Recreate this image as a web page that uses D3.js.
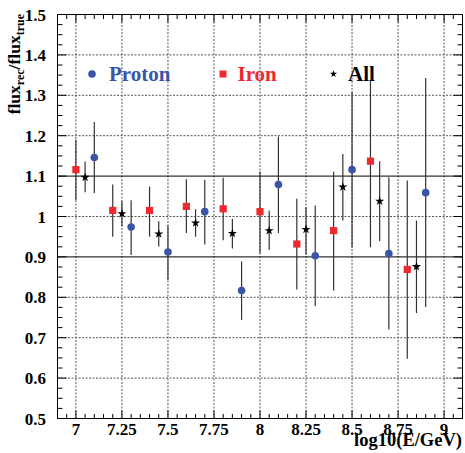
<!DOCTYPE html>
<html>
<head>
<meta charset="utf-8">
<script src="https://cdn.jsdelivr.net/npm/d3@7"></script>
<style>
  body { margin: 0; background: #fff; }
  text { font-family: "Liberation Serif", "Times New Roman", serif; font-weight: bold; }
</style>
</head>
<body>
<svg></svg>
<script>
// Proton (blue circles)
var protonX = [7.1, 7.3, 7.5, 7.7, 7.9, 8.1, 8.3, 8.5, 8.7, 8.9]
var protonY = [1.146, 0.974, 0.912, 1.012, 0.817, 1.079, 0.903, 1.116, 0.908, 1.059]
var protonLo = [1.058, 0.905, 0.843, 0.931, 0.744, 0.959, 0.778, 0.923, 0.720, 0.776]
var protonHi = [1.234, 1.040, 0.978, 1.091, 0.889, 1.198, 1.027, 1.309, 1.097, 1.343]

// Iron (red squares)
var ironX = [7.0, 7.2, 7.4, 7.6, 7.8, 8.0, 8.2, 8.4, 8.6, 8.8]
var ironY = [1.116, 1.015, 1.015, 1.025, 1.019, 1.012, 0.932, 0.965, 1.137, 0.869]
var ironLo = [1.041, 0.950, 0.950, 0.959, 0.941, 0.909, 0.819, 0.817, 0.924, 0.648]
var ironHi = [1.190, 1.079, 1.074, 1.092, 1.096, 1.111, 1.044, 1.111, 1.337, 1.089]

// All (black stars)
var allX = [7.05, 7.25, 7.45, 7.65, 7.85, 8.05, 8.25, 8.45, 8.65, 8.85]
var allY = [1.097, 1.007, 0.957, 0.984, 0.958, 0.965, 0.968, 1.073, 1.038, 0.876]
var allLo = [1.060, 0.976, 0.926, 0.950, 0.921, 0.918, 0.906, 0.990, 0.939, 0.761]
var allHi = [1.136, 1.038, 0.988, 1.018, 0.994, 1.015, 1.023, 1.155, 1.137, 0.990]

var xTicks = [7, 7.25, 7.5, 7.75, 8, 8.25, 8.5, 8.75, 9]
var xTickLabels = ["7", "7.25", "7.5", "7.75", "8", "8.25", "8.5", "8.75", "9"]
var yTicks = [0.5, 0.6, 0.7, 0.8, 0.9, 1, 1.1, 1.2, 1.3, 1.4, 1.5]
var yTickLabels = ["0.5", "0.6", "0.7", "0.8", "0.9", "1", "1.1", "1.2", "1.3", "1.4", "1.5"]
var solidLines = [0.9, 1.1]

var width = 465
var height = 453
var margin = { left: 57.5, right: 2.5, top: 14.5, bottom: 34.5 }
var blue = "#3b55a6"
var red = "#ee2a2e"

var svg = d3.select("svg")
  .attr("width", width)
  .attr("height", height)

var x = d3.scaleLinear().domain([6.9, 9.1]).range([margin.left, width - margin.right])
var y = d3.scaleLinear().domain([0.5, 1.5]).range([height - margin.bottom, margin.top])

var x0 = x.range()[0], x1 = x.range()[1]
var y0 = y.range()[0], y1 = y.range()[1]

// dotted grid
var g = svg.append("g")
g.selectAll(".vgrid").data(xTicks).enter().append("line")
  .attr("x1", d => x(d)).attr("x2", d => x(d))
  .attr("y1", y1).attr("y2", y0)
  .attr("stroke", "#555").attr("stroke-width", 1)
  .attr("stroke-dasharray", "2,1.5")
g.selectAll(".hgrid").data(yTicks.filter(d => solidLines.indexOf(d) < 0)).enter().append("line")
  .attr("x1", x0).attr("x2", x1)
  .attr("y1", d => y(d)).attr("y2", d => y(d))
  .attr("stroke", "#555").attr("stroke-width", 1)
  .attr("stroke-dasharray", "2,1.5")
g.selectAll(".solid").data(solidLines).enter().append("line")
  .attr("x1", x0).attr("x2", x1)
  .attr("y1", d => y(d)).attr("y2", d => y(d))
  .attr("stroke", "#000").attr("stroke-width", 1)

// minor/major ticks on all four sides (pointing inward)
var xMinor = d3.range(6.9, 9.1001, 0.05)
var yMinor = d3.range(0.5, 1.5001, 0.025)
var isMajor = function (v, step) { return Math.abs(v / step - Math.round(v / step)) < 1e-6 }

var ticks = svg.append("g").attr("stroke", "#000").attr("stroke-width", 1)
xMinor.forEach(function (v) {
  var len = isMajor(v, 0.25) ? 8 : 4.5
  ticks.append("line").attr("x1", x(v)).attr("x2", x(v)).attr("y1", y0).attr("y2", y0 - len)
  ticks.append("line").attr("x1", x(v)).attr("x2", x(v)).attr("y1", y1).attr("y2", y1 + len)
})
yMinor.forEach(function (v) {
  var len = isMajor(v, 0.1) ? 9 : 5
  ticks.append("line").attr("y1", y(v)).attr("y2", y(v)).attr("x1", x0).attr("x2", x0 + len)
  ticks.append("line").attr("y1", y(v)).attr("y2", y(v)).attr("x1", x1).attr("x2", x1 - len)
})

// frame
svg.append("rect")
  .attr("x", x0).attr("y", y1)
  .attr("width", x1 - x0).attr("height", y0 - y1)
  .attr("fill", "none").attr("stroke", "#000").attr("stroke-width", 1)

// tick labels
svg.selectAll(".xlab").data(xTicks).enter().append("text")
  .attr("x", d => x(d)).attr("y", 435)
  .attr("text-anchor", "middle").attr("font-size", 17)
  .text((d, i) => xTickLabels[i])
svg.selectAll(".ylab").data(yTicks).enter().append("text")
  .attr("x", 46).attr("y", d => y(d) + 6)
  .attr("text-anchor", "end").attr("font-size", 17)
  .text((d, i) => yTickLabels[i])

// axis titles
svg.append("text")
  .attr("x", 462).attr("y", 446)
  .attr("text-anchor", "end").attr("font-size", 18.5)
  .text("log10(E/GeV)")

var yt = svg.append("text")
  .attr("transform", "translate(20,14) rotate(-90)")
  .attr("text-anchor", "end").attr("font-size", 17.5)
yt.append("tspan").text("flux")
yt.append("tspan").attr("font-size", 12).attr("dy", 4).text("rec")
yt.append("tspan").attr("dy", -4).text("/flux")
yt.append("tspan").attr("font-size", 12).attr("dy", 4).text("true")

// error bars + markers
function series(xs, ys, lo, hi) {
  return xs.map(function (v, i) { return { x: v, y: ys[i], lo: lo[i], hi: hi[i] } })
}
var proton = series(protonX, protonY, protonLo, protonHi)
var iron = series(ironX, ironY, ironLo, ironHi)
var all = series(allX, allY, allLo, allHi)

function errorBars(data) {
  svg.append("g").selectAll("line").data(data).enter().append("line")
    .attr("x1", d => x(d.x)).attr("x2", d => x(d.x))
    .attr("y1", d => y(d.lo)).attr("y2", d => y(d.hi))
    .attr("stroke", "#333").attr("stroke-width", 1.2)
}
errorBars(iron)
errorBars(all)
errorBars(proton)

svg.append("g").selectAll("circle").data(proton).enter().append("circle")
  .attr("cx", d => x(d.x)).attr("cy", d => y(d.y)).attr("r", 3.8)
  .attr("fill", blue)
svg.append("g").selectAll("rect").data(iron).enter().append("rect")
  .attr("x", d => x(d.x) - 3.6).attr("y", d => y(d.y) - 3.6)
  .attr("width", 7.2).attr("height", 7.2)
  .attr("fill", red)
var star = d3.symbol().type(d3.symbolStar).size(26)
svg.append("g").selectAll("path").data(all).enter().append("path")
  .attr("transform", d => "translate(" + x(d.x) + "," + y(d.y) + ")")
  .attr("d", star).attr("fill", "#000")

// legend
var legend = svg.append("g").attr("font-size", 21)
legend.append("circle").attr("cx", 92).attr("cy", 74).attr("r", 3.8).attr("fill", blue)
legend.append("text").attr("x", 109).attr("y", 81).attr("fill", blue).text("Proton")
legend.append("rect").attr("x", 219.5).attr("y", 70.5).attr("width", 7).attr("height", 7).attr("fill", red)
legend.append("text").attr("x", 237.5).attr("y", 81).attr("fill", red).text("Iron")
legend.append("path").attr("transform", "translate(333.5,74)").attr("d", d3.symbol().type(d3.symbolStar).size(16)).attr("fill", "#000")
legend.append("text").attr("x", 348).attr("y", 81).attr("fill", "#000").text("All")
</script>
</body>
</html>
